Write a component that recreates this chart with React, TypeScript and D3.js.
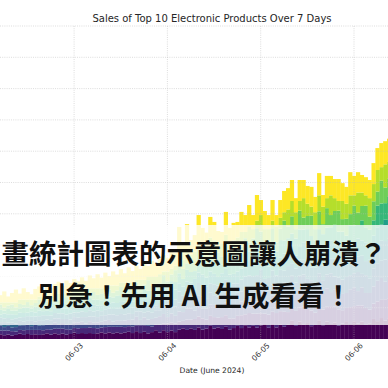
import React from 'react';
import * as d3 from 'd3';

const W = 388;
const H = 388;

const title = 'Sales of Top 10 Electronic Products Over 7 Days';
const xAxisLabel = 'Date (June 2024)';
const tickDates = [new Date(2024, 5, 3), new Date(2024, 5, 4), new Date(2024, 5, 5), new Date(2024, 5, 6)];
const tickLabels = ['06-03', '06-04', '06-05', '06-06'];
const yTicks = [100, 200, 300, 400, 500, 600, 700, 800, 900, 1000];
const products = ['Product 1', 'Product 2', 'Product 3', 'Product 4', 'Product 5', 'Product 6', 'Product 7', 'Product 8', 'Product 9', 'Product 10'];
const firstHour = new Date(2024, 5, 2, 5);
const bannerLines = ['畫統計圖表的示意圖讓人崩潰？', '別急！先用 AI 生成看看！'];

// hourly sales, one array per product (bottom to top of the stack)
const product1 = [15,12,14,11,13,17,13,16,13,15,13,15,18,14,18,15,17,14,16,20,16,19,16,19,16,18,21,18,21,18,20,18,20,23,19,25,19,23,18,22,28,21,28,22,27,22,30,34,29,34,29,37,30,33,42,33,37,32,39,30,35,42,35,44,37,42,36,44,48,36,48,37,46,39,46,58,42,55,47,51,41,45,60,44,56,48,53,43,49,57,48,57,49,55,45,50,64,57,67,59,66];
const product2 = [12,15,13,14,11,12,15,13,16,14,16,13,13,16,15,18,16,17,14,15,18,16,19,18,19,16,16,20,18,21,19,21,18,18,21,19,25,21,24,18,18,25,22,28,25,28,26,24,33,28,35,35,36,29,32,37,31,38,37,36,31,32,41,35,46,39,45,38,33,42,39,46,43,48,40,43,48,46,56,48,50,39,45,50,47,57,50,52,43,42,54,48,58,52,54,44,49,63,58,68,63];
const product3 = [16,11,15,12,14,14,16,17,12,16,14,16,15,17,19,14,18,15,17,17,19,20,15,20,17,19,18,21,22,17,21,19,21,20,22,27,17,25,20,24,22,27,30,20,29,24,32,28,35,36,27,39,32,35,36,39,39,30,41,32,37,36,44,47,34,45,39,47,39,45,51,34,49,42,49,49,51,58,44,54,44,48,51,53,59,45,56,46,52,48,57,60,46,58,48,53,55,66,70,56,69];
const product4 = [11,16,10,15,12,15,12,12,17,11,17,14,16,13,14,19,13,18,15,18,15,15,20,15,20,17,19,17,17,22,16,22,19,21,18,17,27,15,26,20,24,19,20,30,19,30,28,30,27,26,37,29,38,31,38,31,29,40,31,38,33,38,32,32,49,30,48,41,42,33,36,49,34,51,43,52,39,43,59,39,53,42,54,41,44,60,41,55,46,51,45,45,61,43,57,47,58,54,55,71,54];
const product5 = [14,12,15,11,16,11,14,15,13,16,13,18,12,15,17,15,18,14,19,14,17,18,16,20,16,21,15,19,20,18,21,18,23,17,20,23,19,25,18,28,16,23,26,22,29,22,36,22,31,32,29,39,30,39,30,35,35,32,41,30,41,30,38,41,37,45,36,53,30,39,45,37,49,39,55,40,45,52,47,54,41,54,42,47,53,48,56,43,58,39,51,54,49,58,45,59,46,60,64,59,69];
const product6 = [10,15,12,16,11,15,13,11,16,13,18,13,16,14,13,18,15,19,14,18,16,14,19,17,21,16,19,18,16,21,18,23,18,21,19,15,25,19,28,18,24,21,18,28,23,32,26,30,29,24,35,33,40,29,38,33,27,38,35,40,31,38,35,29,46,36,51,38,42,36,33,46,40,54,40,52,42,40,56,45,56,39,54,44,41,57,47,58,43,51,48,42,58,49,60,44,58,57,52,68,60];
const product7 = [15,10,17,12,14,12,17,16,11,18,14,16,13,18,18,13,20,15,17,15,20,19,14,22,17,19,16,22,21,16,23,19,21,18,23,25,15,29,20,24,18,29,28,18,33,24,32,24,37,34,25,43,32,35,32,41,37,28,45,32,37,32,47,44,31,51,39,47,33,48,48,31,55,42,49,43,54,55,41,60,44,48,45,56,56,42,62,46,52,42,60,57,43,64,48,53,49,69,67,53,75];
const product8 = [17,9,11,19,10,16,9,18,10,12,21,12,17,10,20,12,14,22,13,19,12,21,13,16,24,15,20,14,23,15,17,26,17,22,15,29,13,17,34,16,26,13,32,16,21,38,24,32,21,38,23,31,46,27,40,25,41,26,33,46,29,40,23,50,28,33,60,35,45,24,54,28,37,63,37,55,30,61,38,42,65,36,57,32,62,39,44,67,40,54,36,63,40,46,69,41,61,45,73,50,57];
const product9 = [7,17,10,7,16,14,17,8,18,11,9,18,15,18,10,20,13,10,19,17,20,11,21,15,12,21,18,22,13,23,16,14,23,20,23,9,29,15,10,28,22,29,12,32,19,14,36,28,37,18,39,29,22,39,36,41,21,42,31,22,41,36,47,20,52,30,24,53,39,48,24,52,34,27,55,49,54,31,62,39,29,54,51,56,32,63,41,31,58,48,60,33,64,43,33,59,55,69,43,74,54];
const product10 = [23,35,19,30,41,19,36,24,17,34,33,21,37,28,32,39,26,43,35,39,31,44,33,41,32,45,34,41,30,45,35,43,30,49,37,45,35,53,35,52,42,50,52,42,62,42,88,48,88,46,53,81,49,43,66,59,48,36,73,49,56,50,64,54,68,45,82,48,58,45,66,36,57,68,68,67,45,67,58,57,63,49,71,37,71,62,61,70,57,54,74,62,65,56,58,58,67,70,77,74,73];

const seriesValues = [product1, product2, product3, product4, product5, product6, product7, product8, product9, product10];

export default function App() {
  const n = d3.min(seriesValues, (s) => s.length) as number;
  const hours = d3.range(n).map((i) => d3.timeHour.offset(firstHour, i));
  const rows = hours.map((h, i) => {
    const r: any = { date: h };
    products.forEach((p, k) => { r[p] = seriesValues[k][i]; });
    return r;
  });
  const stacked = d3.stack<any>().keys(products)(rows);

  const x = d3.scaleTime()
    .domain([new Date(2024, 5, 2), new Date(2024, 5, 7)])
    .range([-19.2, 447.3]);
  const y = d3.scaleLinear().domain([0, 1000]).range([339, 26]);
  const bw = x(d3.timeHour.offset(firstHour, 1)) - x(firstHour);
  const color = (k: number) => d3.interpolateViridis(k / (products.length - 1));

  return (
    <svg width={W} height={H} style={{ position: 'fixed', left: 0, top: 0, display: 'block', background: '#fff' }}
      fontFamily="DejaVu Sans, sans-serif">
      <rect x={0} y={0} width={W} height={H} fill="#fff" />
      <g>
        {stacked.map((layer, k) => (
          <g key={k} fill={color(k)}>
            {layer.map((d, i) => (
              <rect key={i}
                x={x(d.data.date) - bw / 2}
                width={bw + 0.35}
                y={y(d[1])}
                height={Math.max(0, y(d[0]) - y(d[1]))} />
            ))}
          </g>
        ))}
      </g>
      <g stroke="#b8b8b8" strokeOpacity={0.6} strokeWidth={0.8} strokeDasharray="1,1.2">
        {yTicks.map((t) => (
          <line key={t} x1={0} x2={W} y1={y(t)} y2={y(t)} />
        ))}
        {tickDates.map((d, i) => (
          <line key={i} x1={x(d)} x2={x(d)} y1={y(1000)} y2={y(0)} />
        ))}
      </g>
      <text x={212} y={22} textAnchor="middle" fontSize={10} fill="#262626">{title}</text>
      {tickDates.map((d, i) => (
        <text key={i} x={x(d)} y={352} textAnchor="middle" dominantBaseline="central"
          fontSize={7.5} fill="#333" transform={`rotate(-45, ${x(d)}, 352)`}>{tickLabels[i]}</text>
      ))}
      <text x={212} y={373} textAnchor="middle" fontSize={7.6} fill="#262626">{xAxisLabel}</text>
      <rect x={0} y={225} width={W} height={100} fill="#fff" fillOpacity={0.78} />
      <g fontFamily="'Noto Sans CJK TC', 'Noto Sans CJK JP', sans-serif" fontWeight={700} fill="#111" textAnchor="middle">
        <text x={194} y={252} fontSize={27.5} dominantBaseline="central">{bannerLines[0]}</text>
        <text x={195} y={294} fontSize={27.5} dominantBaseline="central">{bannerLines[1]}</text>
      </g>
    </svg>
  );
}
